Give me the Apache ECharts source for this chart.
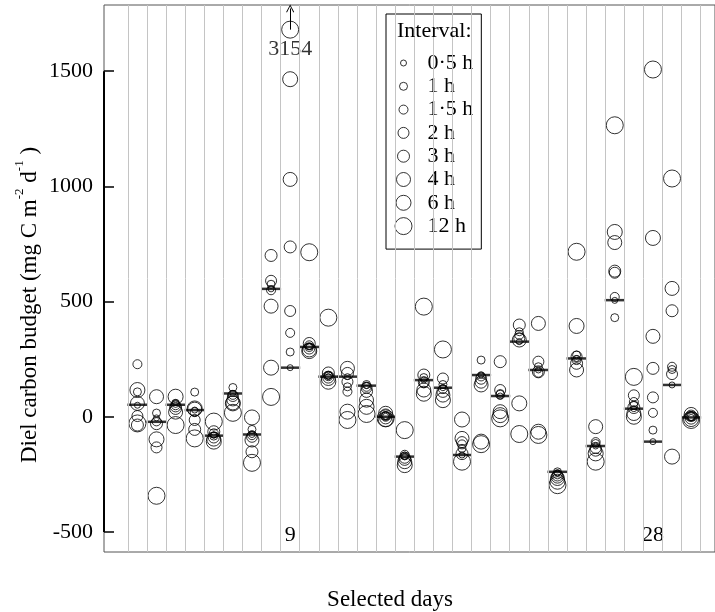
<!DOCTYPE html>
<html>
<head>
<meta charset="utf-8">
<script src="https://cdn.jsdelivr.net/npm/echarts@6/dist/echarts.min.js"></script>
<style>
html,body{margin:0;padding:0;background:#fff}
#chartDiv{width:715px;height:612px}
</style>
</head>
<body>
<div id="chartDiv"></div>
<script>
var days = [1,2,3,4,5,6,7,8,9,10,11,12,13,14,15,16,17,18,19,20,21,22,23,24,25,26,27,28,29,30];
var intervalNames = ['0·5 h','1 h','1·5 h','2 h','3 h','4 h','6 h','12 h'];
var symbolSizes = [6, 8, 9, 11, 12, 14, 15, 17];

// diel budget per interval, one value per selected day (mg C m-2 d-1)
var h05 = [50,-5,62,29,-80,101,-77,555,213,305,174,174,135,2,-173,159,126,-166,181,90,326,203,-245,253,-127,505,35,-108,138,-3];
var h1  = [108,16,58,107,-84,127,-55,575,281,300,181,130,140,5,-170,170,140,-137,246,101,369,217,-239,268,-116,430,50,-58,205,0];
var h15 = [228,-20,50,20,-72,95,-80,549,364,310,176,109,130,0,-165,145,120,-120,175,95,355,191,-250,246,-110,520,64,17,217,2];
var h2  = [3,-133,45,-14,-90,90,-87,590,459,296,170,152,126,10,-178,150,166,-110,165,116,340,239,-255,261,-135,625,93,84,185,5];
var h3  = [-36,-30,36,-55,-65,73,-152,700,737,318,190,188,110,-5,-185,181,110,-160,150,239,398,195,-262,232,-145,632,40,210,460,-6];
var h4  = [58,87,20,33,-97,60,-101,480,1030,290,166,210,72,15,-195,116,94,-94,138,22,333,405,-268,203,-43,756,14,349,557,10];
var h6  = [116,-98,87,36,-108,58,-3,213,1465,285,152,22,43,-10,-210,100,72,-12,-108,7,58,-65,-282,394,-159,802,0,776,-173,-10];
var h12 = [-29,-343,-36,-94,-21,17,-200,86,3154,714,430,-14,12,-7,-58,478,292,-195,-119,-7,-75,-79,-297,716,-195,1265,173,1507,1034,-14];
var medians = [52,-22,52,29,-82,101,-77,555,213,303,174,174,135,0,-173,159,126,-166,181,90,326,203,-239,253,-127,506,35,-108,138,-3];

var budgets = [h05, h1, h15, h2, h3, h4, h6, h12];
var yTicks = [-500, 0, 500, 1000, 1500];
var labelledDays = [9, 28];
var yMin = -587, yMax = 1787, xMin = -0.75, xMax = 31.25;
var shownCeiling = 1680;   // off-scale values are drawn here with an arrow

var F = 'Liberation Serif';

var circlePath = function(d){
    var r = d / 2;
    return 'path://M0,0M28,18M' + (9 - r) + ',9A' + r + ',' + r + ',0,1,1,' + (9 + r) + ',9A' + r + ',' + r + ',0,1,1,' + (9 - r) + ',9Z';
};

var boundaries = [0.5].concat(days.map(function(d){ return d + 0.5; }));

var series = [];

// day separators and the black axis segment
series.push({
    type: 'scatter', name: 'frame', data: [], z: 1, silent: true,
    markLine: {
        silent: true, symbol: 'none', animation: false,
        label: {show: false},
        lineStyle: {type: 'solid'},
        data: boundaries.map(function(b){
            return [{coord: [b, yMin], lineStyle: {color: '#c4c4c4', width: 1, type: 'solid'}}, {coord: [b, yMax]}];
        }).concat([[{coord: [xMin, yTicks[0]], lineStyle: {color: '#000', width: 2, type: 'solid'}}, {coord: [xMin, yTicks[yTicks.length - 1]]}]])
    }
});

budgets.forEach(function(vals, i){
    series.push({
        type: 'scatter',
        name: intervalNames[i],
        symbol: 'circle',
        symbolSize: symbolSizes[i],
        z: 3,
        itemStyle: {color: 'rgba(0,0,0,0)', borderColor: '#000', borderWidth: 1},
        emphasis: {disabled: true},
        data: days.map(function(d, j){
            var v = vals[j];
            if (v > shownCeiling) {
                return {value: [d, shownCeiling], label: {show: true, position: 'bottom', distance: 0,
                    formatter: String(v), fontSize: 22, fontFamily: F, color: '#000'}};
            }
            return [d, v];
        }),
        markLine: vals.some(function(v){ return v > shownCeiling; }) ? {
            silent: true, animation: false,
            symbol: ['none', 'path://M0,9L5,0L10,9L9,9.6L5,2.2L1,9.6Z'],
            symbolSize: [8, 8],
            label: {show: false},
            lineStyle: {color: '#000', width: 1, type: 'solid'},
            data: days.filter(function(d, j){ return vals[j] > shownCeiling; }).map(function(d){
                return [{coord: [d, shownCeiling]}, {coord: [d, yMax - 15]}];
            })
        } : undefined
    });
});

series.push({
    type: 'scatter', name: 'median', symbol: 'rect', symbolSize: [20, 2.5], z: 4,
    itemStyle: {color: '#000'},
    emphasis: {disabled: true},
    data: days.map(function(d, j){ return [d, medians[j]]; })
});

var option = {
    animation: false,
    backgroundColor: '#fff',
    grid: {left: 104, right: -1, top: 5, bottom: 60, show: true, borderColor: '#555', borderWidth: 1},
    xAxis: {
        type: 'value', min: xMin, max: xMax,
        axisLine: {show: false, onZero: false}, axisTick: {show: false}, splitLine: {show: false},
        axisLabel: {customValues: labelledDays, inside: true, margin: 6, fontSize: 22, fontFamily: F, color: '#000'}
    },
    yAxis: {
        type: 'value', min: yMin, max: yMax,
        axisLine: {show: false, onZero: false}, splitLine: {show: false},
        axisTick: {show: true, inside: true, length: 10, customValues: yTicks, lineStyle: {color: '#000', width: 1.5}},
        axisLabel: {customValues: yTicks, margin: 11, fontSize: 22, fontFamily: F, color: '#000',
            formatter: function(v){ return String(v); }}
    },
    legend: {
        orient: 'vertical', left: 386, top: 14,
        padding: [38, 8, 12, 8],
        itemWidth: 28, itemHeight: 18, itemGap: 1.3,
        backgroundColor: '#fff', borderColor: '#000', borderWidth: 1,
        selectedMode: false,
        textStyle: {fontSize: 22, fontFamily: F, color: '#000'},
        data: intervalNames.map(function(n, i){
            return {name: n, icon: circlePath(symbolSizes[i]),
                itemStyle: {color: 'rgba(0,0,0,0)', borderColor: '#000', borderWidth: 1}};
        })
    },
    graphic: [
        {type: 'text', z: 100, x: 397, y: 31, style: {text: 'Interval:', fontSize: 22, fontFamily: F, fill: '#000', verticalAlign: 'middle'}},
        {type: 'text', z: 100, x: 390, y: 600, style: {text: 'Selected days', fontSize: 23, fontFamily: F, fill: '#000', align: 'center', verticalAlign: 'middle'}},
        {type: 'text', z: 100, x: 27, y: 305, rotation: Math.PI / 2,
            style: {text: '{a|Diel carbon budget (mg C m}{s|-2}{a| d}{s|-1}{a| )}', align: 'center', verticalAlign: 'middle', fill: '#000',
                rich: {
                    a: {fontSize: 23, fontFamily: F, fill: '#000', lineHeight: 28, verticalAlign: 'bottom'},
                    s: {fontSize: 13, fontFamily: F, fill: '#000', lineHeight: 28, verticalAlign: 'top'}
                }}}
    ],
    series: series
};

var myChart = echarts.init(document.getElementById('chartDiv'));
myChart.setOption(option);
</script>
</body>
</html>
